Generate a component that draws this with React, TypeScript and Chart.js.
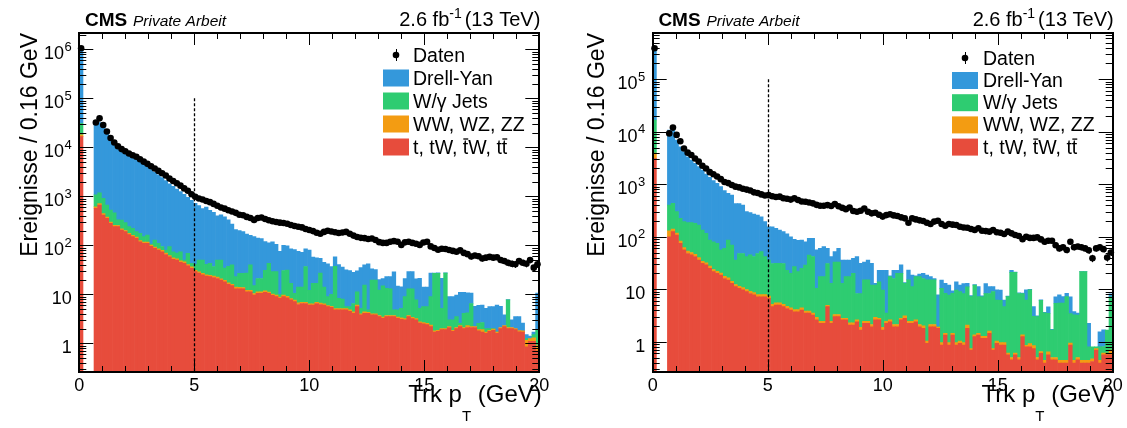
import React, { useEffect, useRef } from "react";
import { Chart, registerables } from "chart.js";

Chart.register(...registerables);

const FONT = '"Liberation Sans", Arial, Helvetica, sans-serif';

// ---- binning / axis definitions ----
const BIN_WIDTH = 0.16;
const N_BINS = 125;
const X_MIN = 0;
const X_MAX = 20;
const binCenters = Array.from({ length: N_BINS }, (_, i) => (i + 0.5) * BIN_WIDTH);
const xTickLabels = [0, 5, 10, 15, 20];
const CUT_PT = 5;
const CUT_LINE_TOP = 1e5;

const Y_TITLE = "Ereignisse / 0.16 GeV";
const HEADER_EXP = "CMS";
const HEADER_STATUS = "Private Arbeit";

const LABEL_DATA = "Daten";
const LABEL_DY = "Drell-Yan";
const LABEL_WJ = "W/γ Jets";
const LABEL_VV = "WW, WZ, ZZ";

const COLORS = {
  dy: "#3498db",
  wj: "#2ecc71",
  vv: "#f39c12",
  top: "#e74c3c",
};

// ---- left panel values (events per bin) ----
const leftData = [
  1050000, null, null, null, 32000, 39000, 28500, 21000, 15500, 12500,
  10500, 9200, 8300, 7500, 6900, 6400, 5700, 5100, 4600, 4100,
  3700, 3300, 2950, 2650, 2300, 2050, 1850, 1650, 1450, 1300,
  1100, 980, 900, 860, 800, 760, 700, 640, 590, 560,
  520, 490, 460, 420, 410, 380, 360, 330, 360, 370,
  345, 325, 310, 300, 290, 285, 275, 260, 248, 240,
  232, 215, 205, 195, 180, 172, 188, 198, 192, 185,
  178, 182, 188, 172, 158, 148, 142, 140, 135, 138,
  128, 116, 112, 112, 118, 122, 118, 102, 115, 118,
  112, 108, 102, 114, 118, 95, 88, 81, 85, 84,
  80, 77, 74, 79, 70, 66, 59, 62, 60, 54,
  56, 58, 56, 57, 50, 48, 44, 42, 41, 48,
  44, 42, 50, 35, 41,
];
const leftTop = [
  16500, null, null, null, 570, 665, 415, 355, 280, 240,
  240, 205, 190, 165, 150, 139, 118, 110, 110, 95,
  87, 80, 74, 65, 58, 52, 50, 45, 43, 38,
  34, 29, 27, 25, 23.5, 23, 22, 21, 19.5, 18,
  16, 15, 13, 13, 13, 11.3, 11.3, 9.7, 10.5, 10.5,
  11, 10.5, 9.5, 9, 8.3, 9, 8.5, 7.7, 7.1, 6.2,
  6.5, 6.5, 6, 6, 6.5, 6.2, 6, 5.6, 5.4, 4.8,
  4.8, 4.8, 4.8, 4.5, 4.1, 5.6, 3.8, 4.1, 4.1, 3.8,
  3.8, 3.5, 3.25, 3.5, 3.5, 3.5, 3.25, 3.1, 3.0, 3.5,
  3.2, 3.0, 2.6, 2.5, 2.4, 2.2, 1.7, 1.75, 1.9, 1.9,
  2.1, 1.75, 2.0, 2.2, 2.0, 2.1, 2.1, 2.1, 1.8, 1.7,
  1.6, 1.75, 1.85, 1.6, 2.0, 2.2, 2.0, 2.0, 1.9, 1.72,
  1.7, 0.85, 1.1, 1.1, 0.7,
];
const leftVV = [
  1500, null, null, null, 40, 45, 28, 22, 18, 15,
  14, 12, 11, 10, 9, 8, 7, 7, 6, 6,
  5.5, 5, 4.6, 4.2, 3.8, 3.5, 3.2, 3, 2.8, 2.5,
  2.3, 2, 1.9, 1.8, 1.6, 1.5, 1.5, 1.4, 1.3, 1.2,
  1.1, 1.0, 1.0, 0.9, 0.8, 0.8, 0.8, 0.7, 0.7, 0.7,
  0.8, 0.6, 0.6, 0.6, 0.5, 0.6, 0.6, 0.5, 0.5, 0.5,
  0.4, 0.4, 0.4, 0.4, 0.4, 0.4, 0.4, 0.3, 0.3, 0.3,
  0.3, 0.3, 0.3, 0.3, 0.3, 0.4, 0.2, 0.3, 0.2, 0.2,
  0.2, 0.2, 0.2, 0.2, 0.2, 0.2, 0.2, 0.2, 0.2, 0.2,
  0.2, 0.2, 0.15, 0.15, 0.15, 0.15, 0.1, 0.1, 0.1, 0.1,
  0.1, 0.1, 0.1, 0.1, 0.1, 0.2, 0.1, 0.1, 0.1, 0.2,
  0.1, 0.1, 0.1, 0.1, 0.1, 0.1, 0.1, 0.1, 0.1, 0.1,
  0.1, 0.3, 0.15, 0.2, 0.2,
];
const leftWJ = [
  13000, null, null, null, 460, 470, 467, 288, 227, 207,
  76, 111, 89, 65, 64, 43, 51, 33, 46, 5,
  35, 25, 16, 11, 32, 18.5, 16, 26, 4, 28.5,
  6.7, 10, 21, 23, 16, 18.5, 13.5, 27.6, 29, 15,
  20, 24, 9, 13, 13, 15, 28, 4.6, 9.8, 9.8,
  19, 32, 19, 19.4, 1.2, 21, 22, 8.5, 2.9, 7.3,
  7.1, 30, 5.6, 10.3, 9.8, 20.4, 7.6, 3.1, 4.3, 32,
  3.2, 2.9, 0.5, 0.8, 2.1, 5.3, 1.2, 11, 0.5, 15.5,
  15.5, 8.5, 11.5, 9.5, 9.3, 1.1, 1.35, 1.9, 5.8, 9.3,
  9.6, 4.5, 2.45, 2.95, 3.05, 6.65, 25, 25, 3.2, 25,
  0.8, 1.15, 1.4, 0.26, 2.0, 1.9, 4.3, 0, 0.66, 0.76,
  0.3, 0.15, 0.05, 0.02, 0, 0, 5.6, 0, 0, 0,
  0, 0.1, 0, 0.2, 1.0,
];
const leftDY = [
  1020000, null, null, null, 32000, 30800, 26100, 19300, 14500, 11500,
  9670, 8470, 7510, 6760, 6080, 5510, 4820, 4350, 3840, 3400,
  2970, 2640, 2305, 2020, 1706, 1526, 1331, 1176, 1050, 881,
  787, 679, 600, 510, 559, 477, 433, 350, 370, 346,
  293, 230, 187, 173, 163, 143, 120, 135, 119, 117,
  89, 69, 89, 76, 65, 69, 67, 68, 71.5, 61,
  58, 48, 68, 41, 39, 27, 31, 33, 27, 21,
  32, 28, 26, 25, 21.5, 19, 30, 24.5, 37, 13.5,
  12.5, 7.8, 6, 9.8, 10, 24, 10, 9, 12, 16,
  16, 13, 16, 8.4, 8.4, 18, 0.3, 0.5, 16, 0.5,
  6, 6, 6.2, 8.4, 6.9, 6.5, 4.1, 3.5, 3.4, 3.4,
  3.2, 3.6, 3.6, 4.3, 3.6, 1.5, 0.1, 0.9, 1.5, 1.7,
  0.8, 0.25, 0.15, 0.2, 8.7,
];

// ---- right panel values (events per bin) ----
const rightData = [
  390000, null, null, null, 9300, 12000, 8700, 6600, 4800, 4000,
  3600, 3100, 2700, 2250, 2000, 1700, 1550, 1400, 1250, 1100,
  1050, 970, 900, 870, 820, 790, 760, 700, 680, 640,
  610, 620, 590, 570, 580, 540, 530, 510, 540, 500,
  470, 465, 450, 432, 405, 390, 390, 400, 385, 420,
  380, 355, 335, 360, 310, 300, 313, 345, 300, 279,
  287, 262, 242, 258, 268, 255, 248, 234, 224, 185,
  224, 214, 205, 200, 185, 175, 194, 202, 175, 162,
  175, 170, 167, 155, 150, 148, 140, 134, 145, 130,
  128, 125, 134, 122, 119, 113, 125, 116, 108, 103,
  90, 100, 95, 95, 97, 89, 80, 84, 84, 69,
  60, 63, 56, 80, 63, 65, 63, 60, 55, 39,
  60, 63, 58, 40, 50,
];
const rightTop = [
  3100, null, null, null, 100, 125, 108, 75, 56, 48,
  45, 42, 36, 31, 29, 25, 21.6, 20, 18.5, 16,
  15, 12.9, 11.2, 10.4, 9.7, 9, 8.3, 7.8, 7.2, 7.2,
  7.2, 6.7, 4.65, 5.0, 5.0, 4.65, 4.3, 4.0, 3.7, 3.7,
  4.0, 3.5, 3.5, 3.2, 2.6, 2.24, 2.24, 4.65, 2.24, 3.0,
  3.0, 2.6, 2.6, 2.08, 2.08, 2.4, 1.67, 2.24, 2.24, 1.93,
  2.6, 2.6, 1.67, 2.24, 2.4, 1.93, 1.93, 2.6, 2.8, 2.24,
  2.24, 2.4, 1.93, 1.8, 0.93, 1.93, 1.93, 1.8, 0.86, 1.34,
  0.86, 1.34, 0.86, 0.93, 0.86, 1.8, 0.69, 1.25, 1.34, 1.16,
  1.16, 1.44, 0.69, 0.93, 0.86, 0.86, 0.56, 0.45, 0.56, 0.45,
  1.25, 0.8, 0.8, 0.74, 0.45, 0.6, 0.39, 0.56, 0.45, 0.45,
  0.39, 0.39, 0.39, 0.86, 0.39, 0.45, 0.39, 0.39, 0.39, 0.42,
  0.69, 0.39, 0.56, 0.56, 0.56,
];
const rightVV = [
  800, null, null, null, 30, 15, 10, 8, 6, 5,
  5, 4, 4, 3, 3, 2.5, 2.2, 2, 1.8, 1.6,
  1.5, 1.3, 1.1, 1, 1, 0.9, 0.8, 0.8, 0.7, 0.7,
  0.7, 0.7, 0.5, 0.5, 0.5, 0.5, 0.4, 0.4, 0.4, 0.4,
  0.4, 0.35, 0.35, 0.3, 0.3, 0.2, 0.2, 0.3, 0.2, 0.3,
  0.3, 0.2, 0.2, 0.2, 0.2, 0.2, 0.2, 0.2, 0.2, 0.2,
  0.3, 0.2, 0.2, 0.2, 0.2, 0.2, 0.2, 0.2, 0.3, 0.2,
  0.2, 0.2, 0.2, 0.2, 0.1, 0.2, 0.2, 0.1, 0.1, 0.1,
  0.1, 0.1, 0.1, 0.1, 0.1, 0.28, 0.05, 0.1, 0.1, 0.1,
  0.1, 0.15, 0.05, 0.1, 0.1, 0.1, 0.05, 0.05, 0.05, 0.05,
  0.1, 0.05, 0.12, 0.1, 0.05, 0.05, 0.05, 0.08, 0.05, 0.05,
  0.05, 0.05, 0.05, 0.08, 0.05, 0.05, 0.05, 0.05, 0.05, 0.05,
  0.05, 0.05, 0.05, 0.05, 0.13,
];
const rightWJ = [
  12800, null, null, null, 270, 292, 182, 141, 132, 132,
  135, 134, 127, 100, 84, 58.5, 56, 53, 35.7, 42.4,
  69.5, 54.8, 23.7, 36.6, 37.3, 32, 36, 33.4, 40, 44,
  34, 28.6, 25.8, 25.5, 25.5, 25.8, 18.3, 15.6, 22.9, 17.5,
  20.6, 25, 41, 38.5, 7.5, 15, 15, 26, 10.5, 29.7,
  29.7, 10.1, 14.6, 15.1, 17.7, 5.7, 6.4, 12.6, 12.6, 9.9,
  9.1, 11.1, 7.8, 1.06, 14.8, 13.9, 17.9, 17.2, 9.8, 12.6,
  8.8, 14.8, 15.3, 14, 14, 12.9, 12.9, 0.03, 9.4, 6.9,
  6.8, 6.9, 8.7, 8, 7.3, 9, 6.5, 10.6, 5.8, 5.9,
  7, 6.7, 8.3, 5.2, 5.2, 3.7, 6.6, 20.5, 20.4, 7.8,
  6.9, 5.35, 8.85, 2.2, 2.5, 5.5, 3.1, 2.84, 1.17, 4.9,
  5, 5, 6.8, 2.5, 2.8, 2.7, 21.2, 21.2, 0.36, 0.33,
  0.06, 0.36, 0.2, 1.06, 6.5,
];
const rightDY = [
  373000, null, null, null, 10300, 10270, 6650, 4926, 3956, 3155,
  2695, 2320, 1993, 1726, 1444, 1264, 1090, 965, 844, 693,
  584, 554, 394, 382, 352, 258, 242, 228, 210, 188,
  152, 119, 124, 114, 103, 94, 90, 80, 62, 64,
  61, 51, 48, 51, 45.6, 42.6, 47.6, 29, 29, 19,
  27, 23, 18.6, 18.6, 19, 33.7, 22.7, 18, 21, 19,
  0.9, 9.1, 13.3, 19.5, 0.5, 7, 3, 9, 0.5, 8,
  7.3, 0.6, 2, 4, 3.5, 2.4, 1, 5.9, 4.6, 4.6,
  4.2, 1, 4.2, 3, 4.6, 1.9, 0.3, 0.3, 4, 0.3,
  4.6, 2.9, 2.2, 3.5, 3.5, 1.55, 0.2, 2, 0.3, 0.2,
  0.2, 3.5, 0.2, 1.65, 0.1, 0.1, 0.1, 1.15, 0.05, 1.8,
  2.4, 1.8, 1.1, 3.7, 0.5, 0.3, 0.1, 0.1, 1.44, 0,
  0, 0.75, 0.87, 0, 1,
];

type Series = (number | null)[];
type PanelCfg = {
  canvasLeft: number;
  canvasWidth: number;
  frame: { left: number; right: number; top: number; bottom: number };
  yMin: number;
  yMax: number;
  maxDecade: number;
  values: { data: Series; top: Series; vv: Series; wj: Series; dy: Series };
  legend: { boxX: number; textX: number; datenY: number; box0: number; step: number };
  yTitleX: number;
};

const PANELS: PanelCfg[] = [
  {
    canvasLeft: 0,
    canvasWidth: 563,
    frame: { left: 79.3, right: 539.3, top: 33, bottom: 372 },
    yMin: 0.26,
    yMax: 2.15e6,
    maxDecade: 6,
    values: { data: leftData, top: leftTop, vv: leftVV, wj: leftWJ, dy: leftDY },
    legend: { boxX: 383, textX: 413, datenY: 55, box0: 78, step: 23 },
    yTitleX: 37,
  },
  {
    canvasLeft: 563,
    canvasWidth: 564,
    frame: { left: 652.7, right: 1112.7, top: 33, bottom: 372 },
    yMin: 0.265,
    yMax: 7.6e5,
    maxDecade: 5,
    values: { data: rightData, top: rightTop, vv: rightVV, wj: rightWJ, dy: rightDY },
    legend: { boxX: 952, textX: 983, datenY: 58, box0: 80.5, step: 22.2 },
    yTitleX: 603.5,
  },
];

function seg(ctx: CanvasRenderingContext2D, x1: number, y1: number, x2: number, y2: number) {
  ctx.beginPath();
  ctx.moveTo(x1, y1);
  ctx.lineTo(x2, y2);
  ctx.stroke();
}

function drawPow(ctx: CanvasRenderingContext2D, d: number, xRight: number, yBase: number) {
  ctx.textAlign = "left";
  ctx.textBaseline = "alphabetic";
  if (d <= 1) {
    ctx.font = `18px ${FONT}`;
    const s = d === 0 ? "1" : "10";
    const w = ctx.measureText(s).width;
    ctx.fillText(s, xRight - w, yBase);
    return;
  }
  ctx.font = `18px ${FONT}`;
  const w1 = ctx.measureText("10").width;
  ctx.font = `13px ${FONT}`;
  const w2 = ctx.measureText(String(d)).width;
  const x0 = xRight - w1 - w2 - 0.5;
  ctx.font = `18px ${FONT}`;
  ctx.fillText("10", x0, yBase);
  ctx.font = `13px ${FONT}`;
  ctx.fillText(String(d), x0 + w1 + 0.5, yBase - 8.5);
}

function makeDecor(p: PanelCfg) {
  return {
    id: "decor",
    afterDatasetsDraw(chart: any) {
      const { ctx, chartArea: a } = chart;
      const xs = chart.scales.x;
      const ys = chart.scales.y;
      ctx.save();
      // cut line
      ctx.strokeStyle = "#000";
      ctx.setLineDash([3, 2]);
      ctx.lineWidth = 1.3;
      const xc = Math.round(xs.getPixelForValue(CUT_PT)) + 0.5;
      seg(ctx, xc, ys.getPixelForValue(CUT_LINE_TOP), xc, a.bottom);
      ctx.setLineDash([]);
      // statistical error bars of data
      ctx.lineWidth = 1;
      p.values.data.forEach((v, i) => {
        if (v == null) return;
        const e = Math.sqrt(v);
        const px = Math.round(xs.getPixelForValue(binCenters[i])) + 0.5;
        const lo = Math.max(v - e, ys.min);
        seg(ctx, px, ys.getPixelForValue(lo), px, ys.getPixelForValue(v + e));
      });
      ctx.restore();
    },
    afterDraw(chart: any) {
      const { ctx, chartArea: a } = chart;
      const xs = chart.scales.x;
      const ys = chart.scales.y;
      const off = p.canvasLeft;
      ctx.save();
      ctx.strokeStyle = "#000";
      ctx.fillStyle = "#000";
      ctx.lineWidth = 1;
      // x ticks (inward, bottom and top)
      for (let v = X_MIN; v <= X_MAX; v++) {
        const px = Math.round(xs.getPixelForValue(v)) + 0.5;
        const len = v % 5 === 0 ? 12 : 6;
        seg(ctx, px, a.bottom, px, a.bottom - len);
        seg(ctx, px, a.top, px, a.top + len);
      }
      // y log ticks (inward, left and right)
      for (let d = -1; d <= 7; d++) {
        for (let m = 1; m <= 9; m++) {
          const v = m * Math.pow(10, d);
          if (v < ys.min || v > ys.max) continue;
          const py = Math.round(ys.getPixelForValue(v)) + 0.5;
          const len = m === 1 ? 14 : 7;
          seg(ctx, a.left, py, a.left + len, py);
          seg(ctx, a.right, py, a.right - len, py);
        }
      }
      // frame
      ctx.lineWidth = 2;
      const L = Math.round(a.left), R = Math.round(a.right), T = Math.round(a.top), B = Math.round(a.bottom);
      ctx.strokeRect(L, T, R - L, B - T);

      // x tick labels
      ctx.font = `18px ${FONT}`;
      ctx.textAlign = "center";
      ctx.textBaseline = "alphabetic";
      for (const v of xTickLabels) ctx.fillText(String(v), xs.getPixelForValue(v), 391);
      // y tick labels
      for (let d = 0; d <= p.maxDecade; d++) {
        const py = ys.getPixelForValue(Math.pow(10, d));
        drawPow(ctx, d, a.left - 7.5, py + 10);
      }

      // x title: Trk p_T (GeV)
      ctx.textAlign = "left";
      ctx.font = `24px ${FONT}`;
      const t1 = "Trk p", t3 = " (GeV)";
      const w1 = ctx.measureText(t1).width;
      const w3 = ctx.measureText(t3).width;
      ctx.font = `15px ${FONT}`;
      const w2 = ctx.measureText("T").width;
      const xt0 = a.right + 2.5 - (w1 + w2 + w3);
      ctx.font = `24px ${FONT}`;
      ctx.fillText(t1, xt0, 402);
      ctx.fillText(t3, xt0 + w1 + w2, 402);
      ctx.font = `15px ${FONT}`;
      ctx.fillText("T", xt0 + w1, 421);

      // y title
      ctx.save();
      ctx.translate(p.yTitleX - off, p.frame.top);
      ctx.rotate(-Math.PI / 2);
      ctx.textAlign = "right";
      ctx.font = `23px ${FONT}`;
      ctx.fillText(Y_TITLE, 0, 0);
      ctx.restore();

      // header
      ctx.textAlign = "left";
      ctx.font = `bold 19px ${FONT}`;
      ctx.fillText(HEADER_EXP, a.left + 5.7, 26);
      ctx.font = `italic 15.5px ${FONT}`;
      ctx.fillText(HEADER_STATUS, a.left + 53.7, 26);
      // luminosity label
      ctx.font = `20px ${FONT}`;
      const l1 = "2.6 fb", l3 = "(13 TeV)";
      const lw1 = ctx.measureText(l1).width;
      const lw3 = ctx.measureText(l3).width;
      ctx.font = `14px ${FONT}`;
      const lw2 = ctx.measureText("-1").width;
      const gap = 3;
      const lx0 = a.right + 1 - (lw1 + lw2 + gap + lw3);
      ctx.font = `20px ${FONT}`;
      ctx.fillText(l1, lx0, 26);
      ctx.fillText(l3, lx0 + lw1 + lw2 + gap, 26);
      ctx.font = `14px ${FONT}`;
      ctx.fillText("-1", lx0 + lw1, 18);

      // legend
      const lg = p.legend;
      const bx = lg.boxX - off;
      const tx = lg.textX - off;
      ctx.font = `19.5px ${FONT}`;
      ctx.textAlign = "left";
      ctx.fillStyle = "#000";
      ctx.beginPath();
      ctx.arc(bx + 13, lg.datenY, 3.3, 0, Math.PI * 2);
      ctx.fill();
      ctx.lineWidth = 1;
      seg(ctx, Math.round(bx + 13) + 0.5, lg.datenY - 6, Math.round(bx + 13) + 0.5, lg.datenY + 6);
      ctx.fillText(LABEL_DATA, tx, lg.datenY + 6.5);
      const entries: [string, string][] = [
        [LABEL_DY, COLORS.dy],
        [LABEL_WJ, COLORS.wj],
        [LABEL_VV, COLORS.vv],
        ["", COLORS.top],
      ];
      entries.forEach(([label, color], i) => {
        const cy = lg.box0 + i * lg.step;
        ctx.fillStyle = color;
        ctx.fillRect(bx, cy - 8.5, 26, 17);
        ctx.fillStyle = "#000";
        if (label) {
          ctx.fillText(label, tx, cy + 6.5);
        } else {
          // "t, tW, t̄W, tt̄" with drawn overbars
          const parts: [string, boolean][] = [["t, tW, ", false], ["t", true], ["W, t", false], ["t", true]];
          let cx = tx;
          const by = cy + 6.5;
          ctx.lineWidth = 1.3;
          for (const [s, bar] of parts) {
            ctx.fillText(s, cx, by);
            const w = ctx.measureText(s).width;
            if (bar) seg(ctx, cx + 0.5, by - 14.5, cx + w, by - 14.5);
            cx += w;
          }
        }
      });
      ctx.restore();
    },
  };
}

function Panel({ p }: { p: PanelCfg }) {
  const ref = useRef<HTMLCanvasElement | null>(null);
  useEffect(() => {
    const canvas = ref.current;
    if (!canvas) return;
    const toXY = (arr: Series) => arr.map((v, i) => ({ x: binCenters[i], y: v }));
    const bar = (label: string, arr: Series, color: string) => ({
      type: "bar" as const,
      label,
      data: toXY(arr),
      backgroundColor: color,
      borderWidth: 0,
      barPercentage: 1,
      categoryPercentage: 1,
      stack: "mc",
      order: 1,
    });
    const dataPts = p.values.data
      .map((v, i) => ({ x: binCenters[i], y: v }))
      .filter((pt) => pt.y != null);
    const chart = new Chart(canvas, {
      type: "bar",
      data: {
        datasets: [
          bar("t, tW, t̄W, tt̄", p.values.top, COLORS.top),
          bar(LABEL_VV, p.values.vv, COLORS.vv),
          bar(LABEL_WJ, p.values.wj, COLORS.wj),
          bar(LABEL_DY, p.values.dy, COLORS.dy),
          {
            type: "line" as const,
            label: LABEL_DATA,
            data: dataPts as any,
            showLine: false,
            pointRadius: 3.3,
            pointBackgroundColor: "#000",
            pointBorderWidth: 0,
            pointHoverRadius: 0,
            stack: "data",
            order: 0,
            clip: false as any,
          } as any,
        ],
      },
      options: {
        responsive: false,
        animation: false,
        events: [],
        layout: {
          padding: {
            left: p.frame.left - p.canvasLeft,
            right: p.canvasLeft + p.canvasWidth - p.frame.right,
            top: p.frame.top,
            bottom: 428 - p.frame.bottom,
          },
        },
        plugins: {
          legend: { display: false },
          tooltip: { enabled: false },
          title: { display: false },
        },
        scales: {
          x: {
            type: "linear",
            min: X_MIN,
            max: X_MAX,
            display: false,
            stacked: true,
            offset: false,
            bounds: "data",
          },
          y: {
            type: "logarithmic",
            min: p.yMin,
            max: p.yMax,
            display: false,
            stacked: true,
            beginAtZero: false,
          },
        },
      } as any,
      plugins: [makeDecor(p)],
    });
    return () => chart.destroy();
  }, [p]);
  return (
    <canvas
      ref={ref}
      width={p.canvasWidth}
      height={428}
      style={{ position: "absolute", left: p.canvasLeft, top: 0, width: p.canvasWidth, height: 428 }}
    />
  );
}

export default function App() {
  return (
    <div style={{ position: "absolute", left: 0, top: 0, width: 1127, height: 428, background: "#fff", overflow: "hidden" }}>
      {PANELS.map((p, i) => (
        <Panel key={i} p={p} />
      ))}
    </div>
  );
}
